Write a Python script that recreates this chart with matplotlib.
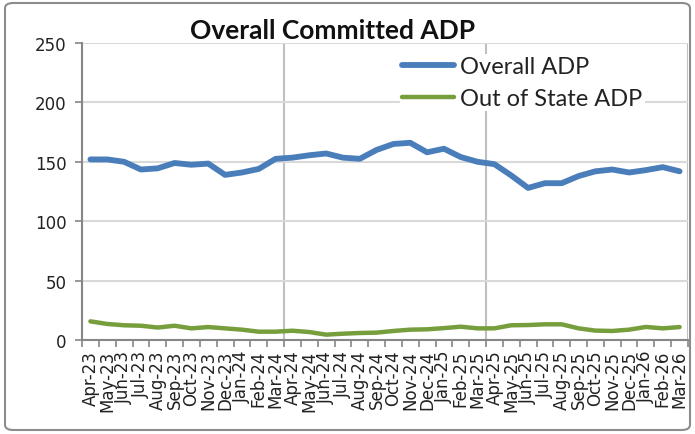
import matplotlib
matplotlib.use("Agg")
import matplotlib.pyplot as plt
from matplotlib.patches import FancyBboxPatch
import numpy as np

months = ["Apr-23", "May-23", "Jun-23", "Jul-23", "Aug-23", "Sep-23", "Oct-23", "Nov-23",
          "Dec-23", "Jan-24", "Feb-24", "Mar-24", "Apr-24", "May-24", "Jun-24", "Jul-24",
          "Aug-24", "Sep-24", "Oct-24", "Nov-24", "Dec-24", "Jan-25", "Feb-25", "Mar-25",
          "Apr-25", "May-25", "Jun-25", "Jul-25", "Aug-25", "Sep-25", "Oct-25", "Nov-25",
          "Dec-25", "Jan-26", "Feb-26", "Mar-26"]

overall_adp = [152, 152, 150, 143.5, 144.5, 149, 147.5, 148.5, 139, 141, 144, 152.5,
               153.5, 155.5, 157, 153.5, 152.5, 160, 165, 166, 158, 161, 154, 150,
               148, 138.5, 128, 132, 132, 138, 142, 143.5, 141, 143, 145.5, 142]

out_of_state_adp = [15.7, 13.5, 12.4, 12, 10.5, 12, 9.8, 10.9, 9.8, 8.7, 7, 7,
                    7.8, 6.7, 4.5, 5.3, 5.9, 6.2, 7.6, 8.7, 9, 10, 11.2, 9.8,
                    9.8, 12.4, 12.6, 13.2, 13.2, 9.8, 7.9, 7.6, 8.7, 11, 9.8, 10.9]

y_ticks = [0, 50, 100, 150, 200, 250]

fig = plt.figure(figsize=(6.95, 4.35), dpi=100)
ax = fig.add_axes([82/695, 94/435, 606/695, 297/435])

x = np.arange(len(months))
ax.plot(x, overall_adp, color="#4A7EBB", lw=4.2, solid_capstyle="round", label="Overall ADP", zorder=3)
ax.plot(x, out_of_state_adp, color="#779E3D", lw=3.2, solid_capstyle="round", label="Out of State ADP", zorder=3)

ax.set_xlim(-0.5, len(months) - 0.5)
ax.set_ylim(0, 250)
ax.set_yticks(y_ticks)
ax.set_yticklabels([str(v) for v in y_ticks], fontsize=12, color="#222222")
ax.tick_params(axis="y", length=5, width=1.2, color="#868686", pad=6)

ax.set_xticks(x)
ax.set_xticklabels(months, rotation=90, fontsize=12, color="#222222")
ax.tick_params(axis="x", which="major", length=0, pad=7)
ax.set_xticks(np.arange(-0.5, len(months), 1), minor=True)
ax.tick_params(axis="x", which="minor", length=5, width=1.2, color="#868686")

ax.yaxis.grid(True, color="#D9D9D9", lw=1.5, zorder=0)
for b in np.arange(11.5, len(months), 12):
    ax.axvline(b, color="#BFBFBF", lw=1.5, zorder=0)

for s in ["top", "right"]:
    ax.spines[s].set_visible(False)
for s in ["left", "bottom"]:
    ax.spines[s].set_color("#868686")
    ax.spines[s].set_linewidth(1.5)

leg = ax.legend(loc="upper left", bbox_to_anchor=(306/606, 1 + 1/297), frameon=True,
                fancybox=False, edgecolor="white", facecolor="white", framealpha=1,
                prop={"family": "Lato", "size": 17}, handlelength=2.2, handletextpad=0.25,
                labelspacing=0.45, borderpad=0.1)
leg.get_frame().set_linewidth(0)
for t in leg.get_texts():
    t.set_color("#222222")

fig.text(333/695, 1 - 31/435, "Overall Committed ADP", ha="center", va="center",
         fontsize=19, fontweight="bold", family="Lato", color="#111111")

border = FancyBboxPatch((5/695, 4/435), 685/695, 427/435, boxstyle="round,pad=0,rounding_size=0.012",
                        transform=fig.transFigure, fill=False, edgecolor="#8C8C8C", lw=1.5)
fig.patches.append(border)

fig.savefig("out.png", dpi=100)
